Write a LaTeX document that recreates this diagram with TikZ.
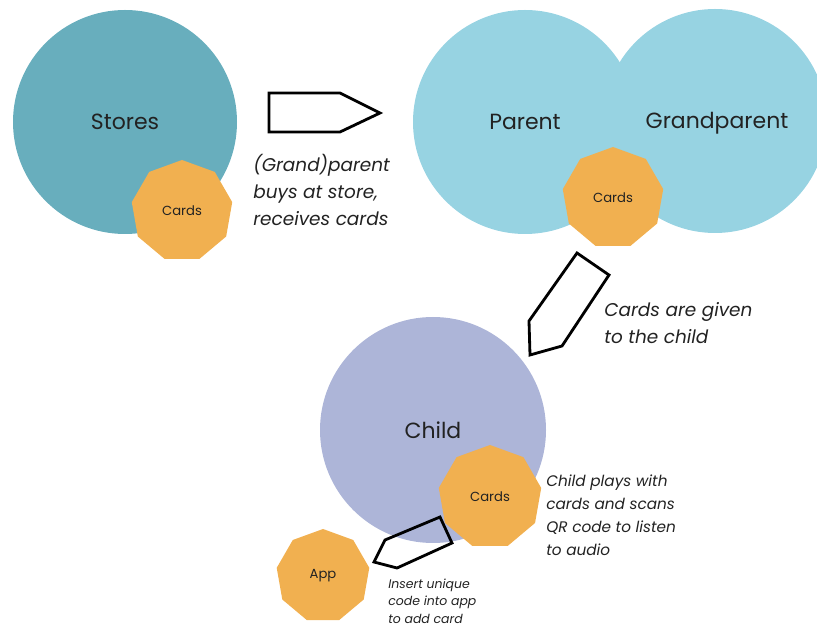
\documentclass[tikz,border=0pt]{standalone}
\usepackage{fontspec}
\setmainfont{Poppins}
\usepackage{tikz}
\usetikzlibrary{shapes.geometric}
\definecolor{storeteal}{RGB}{104,174,189}
\definecolor{familyblue}{RGB}{151,211,226}
\definecolor{childlav}{RGB}{173,181,216}
\definecolor{cardorange}{RGB}{241,176,80}
\definecolor{inkgray}{RGB}{34,34,34}

\begin{document}
\begin{tikzpicture}[
      party/.style={circle,inner sep=0pt,minimum size=#1,font=\fontsize{12.5}{14}\selectfont,text=inkgray},
      cardshape/.style={regular polygon,regular polygon sides=9,fill=cardorange,inner sep=0pt,minimum size=#1,font=\fontsize{7.5}{9}\selectfont,text=inkgray},
      blockarrow/.style={draw=black,line width=1.6pt,line join=miter},
      note/.style={anchor=west,align=left,inner sep=0pt,text=inkgray,font=\itshape\fontsize{10.5}{15.3}\selectfont}
    ]
      \useasboundingbox (0,0) rectangle (16.34,12.5);
      \node[party=4.48cm,fill=storeteal] (stores) at (2.5,10.06) {Stores};
      \node[cardshape=2.04cm] (cards1) at (3.64,8.28) {Cards};

      \node[party=4.48cm,fill=familyblue] (parent) at (10.5,10.06) {};
      \node[party=4.48cm,fill=familyblue] (grand) at (14.3,10.08) {};
      \node[font=\fontsize{12.5}{14}\selectfont,text=inkgray] at (parent) {Parent};
      \node[font=\fontsize{12.5}{14}\selectfont,text=inkgray] at (14.34,10.04) {Grandparent};
      \node[cardshape=2.04cm] (cards2) at (12.26,8.54) {Cards};

      \node[party=4.52cm,fill=childlav] (child) at (8.66,3.9) {Child};
      \node[cardshape=2.08cm] (cards3) at (9.8,2.56) {Cards};
      \node[cardshape=1.88cm] (app) at (6.46,0.98) {App};

      \draw[blockarrow] (5.38,10.64) -- (6.8,10.64) -- (7.6,10.24) -- (6.8,9.86) -- (5.38,9.86) -- cycle;
      \draw[blockarrow] (11.54,7.44) -- (12.18,7.0) -- (11.24,5.58) -- (10.6,5.4) -- (10.58,6.08) -- cycle;
      \draw[blockarrow] (8.8,2.16) -- (9.04,1.64) -- (7.94,1.14) -- (7.48,1.26) -- (7.7,1.7) -- cycle;

      \node[note] (buytext) at (5.06,8.7) {(Grand)parent\\buys at store,\\receives cards};
      \node[note] (givetext) at (12.08,6.04) {Cards are given\\to the child};
      \node[note,font=\itshape\fontsize{8.7}{13}\selectfont] (playtext) at (10.92,2.19) {Child plays with\\cards and scans\\QR code to listen\\to audio};
      \node[note,font=\itshape\fontsize{7.1}{10}\selectfont] (inserttext) at (7.76,0.48) {Insert unique\\code into app\\to add card};
    \end{tikzpicture}
\end{document}
